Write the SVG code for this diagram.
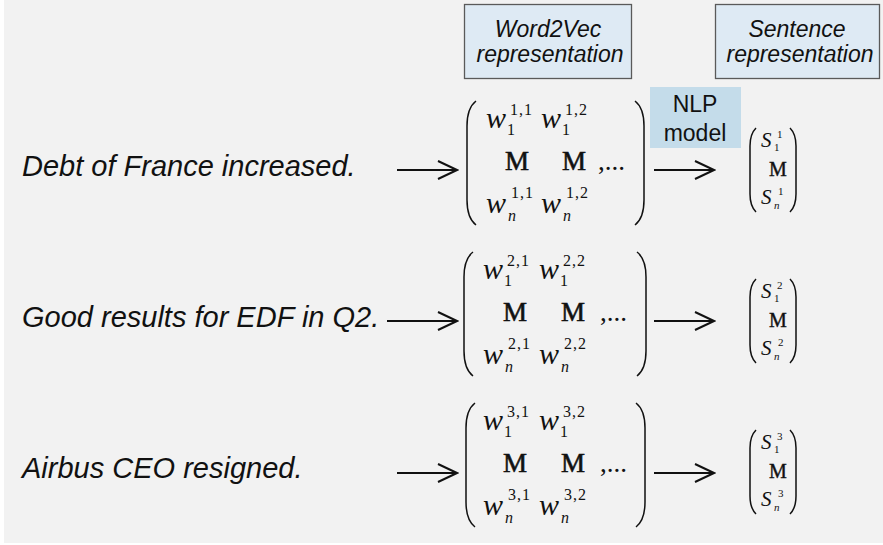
<svg xmlns="http://www.w3.org/2000/svg" width="883" height="545" viewBox="0 0 883 545">
  <style>
    .bg { fill: #f2f2f2; }
    .hdr { fill: #deeaf4; stroke: #5a5a5a; stroke-width: 1.3; }
    .nlp { fill: #c4dcea; }
    .sans { font-family: "Liberation Sans", Arial, sans-serif; fill: #111; }
    .it { font-style: italic; }
    .sent { font-size: 29px; }
    .hdrtxt { font-size: 23px; text-anchor: middle; }
    .serif { font-family: "Liberation Serif", "Times New Roman", serif; fill: #111; }
    .w { font-size: 30px; font-style: italic; }
    .idx { font-size: 16px; letter-spacing: 1px; }
    .mm { font-size: 27px; stroke: #111; stroke-width: 0.6; }
    .dots { font-size: 27px; }
    .s { font-size: 21px; font-style: italic; }
    .sidx { font-size: 11px; }
    .sdots { font-size: 20px; stroke: #111; stroke-width: 0.4; }
    .paren { fill: none; stroke: #111; stroke-width: 1.5; }
    .conn { stroke: #111; stroke-width: 2; fill: none; marker-end: url(#chev); }
  </style>
  <defs>
    <marker id="chev" viewBox="0 0 22 20" refX="20" refY="10" markerWidth="22" markerHeight="20" markerUnits="userSpaceOnUse" orient="auto">
      <path d="M1,1 L20,10 L1,19" fill="none" stroke="#111" stroke-width="2"/>
    </marker>
  </defs>

  <rect class="bg" x="4" y="0" width="879" height="543"/>

  <!-- column headers -->
  <g id="header-word2vec">
    <rect class="hdr" x="464.5" y="4.5" width="167" height="74"/>
    <text class="sans it hdrtxt" x="548" y="37">Word2Vec</text>
    <text class="sans it hdrtxt" x="550" y="62">representation</text>
  </g>
  <g id="header-sentence">
    <rect class="hdr" x="715.5" y="4.5" width="164" height="74"/>
    <text class="sans it hdrtxt" x="797" y="37">Sentence</text>
    <text class="sans it hdrtxt" x="800" y="62">representation</text>
  </g>

  <!-- input sentences -->
  <g id="sentence-1"><text class="sans it sent" x="22" y="176">Debt of France increased.</text></g>
  <g id="sentence-2"><text class="sans it sent" x="22" y="327">Good results for EDF in Q2.</text></g>
  <g id="sentence-3"><text class="sans it sent" x="22" y="478">Airbus CEO resigned.</text></g>

  <!-- word-vector matrices -->
  <g id="matrix-1">
    <path class="paren" d="M476,101 Q467,108 467,126 L467,200 Q467,218 476,225"/>
    <path class="paren" d="M635,101 Q644,108 644,126 L644,200 Q644,218 635,225"/>
    <text class="serif w" x="486" y="128">w</text>
    <text class="serif idx" x="507" y="135">1</text>
    <text class="serif idx" x="510" y="115">1,1</text>
    <text class="serif w" x="541" y="128">w</text>
    <text class="serif idx" x="562" y="135">1</text>
    <text class="serif idx" x="565" y="115">1,2</text>
    <text class="serif mm" x="505" y="170">M</text>
    <text class="serif mm" x="562" y="170">M</text>
    <text class="serif dots" x="598" y="170">,...</text>
    <text class="serif w" x="486" y="213">w</text>
    <text class="serif idx" x="508" y="221" font-style="italic">n</text>
    <text class="serif idx" x="511" y="198">1,1</text>
    <text class="serif w" x="541" y="213">w</text>
    <text class="serif idx" x="563" y="221" font-style="italic">n</text>
    <text class="serif idx" x="566" y="198">1,2</text>
  </g>
  <g id="matrix-2" transform="translate(0,151)">
    <path class="paren" d="M473,101 Q464,108 464,126 L464,200 Q464,218 473,225"/>
    <path class="paren" d="M637,101 Q646,108 646,126 L646,200 Q646,218 637,225"/>
    <text class="serif w" x="483" y="128">w</text>
    <text class="serif idx" x="504" y="135">1</text>
    <text class="serif idx" x="507" y="115">2,1</text>
    <text class="serif w" x="539" y="128">w</text>
    <text class="serif idx" x="560" y="135">1</text>
    <text class="serif idx" x="563" y="115">2,2</text>
    <text class="serif mm" x="503" y="170">M</text>
    <text class="serif mm" x="561" y="170">M</text>
    <text class="serif dots" x="600" y="170">,...</text>
    <text class="serif w" x="483" y="213">w</text>
    <text class="serif idx" x="505" y="221" font-style="italic">n</text>
    <text class="serif idx" x="508" y="198">2,1</text>
    <text class="serif w" x="539" y="213">w</text>
    <text class="serif idx" x="561" y="221" font-style="italic">n</text>
    <text class="serif idx" x="564" y="198">2,2</text>
  </g>
  <g id="matrix-3" transform="translate(0,302)">
    <path class="paren" d="M475,101 Q466,108 466,126 L466,200 Q466,218 475,225"/>
    <path class="paren" d="M636,101 Q645,108 645,126 L645,200 Q645,218 636,225"/>
    <text class="serif w" x="483" y="128">w</text>
    <text class="serif idx" x="504" y="135">1</text>
    <text class="serif idx" x="507" y="115">3,1</text>
    <text class="serif w" x="539" y="128">w</text>
    <text class="serif idx" x="560" y="135">1</text>
    <text class="serif idx" x="563" y="115">3,2</text>
    <text class="serif mm" x="503" y="170">M</text>
    <text class="serif mm" x="561" y="170">M</text>
    <text class="serif dots" x="600" y="170">,...</text>
    <text class="serif w" x="483" y="213">w</text>
    <text class="serif idx" x="505" y="221" font-style="italic">n</text>
    <text class="serif idx" x="508" y="198">3,1</text>
    <text class="serif w" x="539" y="213">w</text>
    <text class="serif idx" x="561" y="221" font-style="italic">n</text>
    <text class="serif idx" x="564" y="198">3,2</text>
  </g>

  <!-- model label -->
  <g id="nlp-model">
    <rect class="nlp" x="650" y="87" width="91" height="61"/>
    <text class="sans hdrtxt" x="695" y="112">NLP</text>
    <text class="sans hdrtxt" x="695" y="141">model</text>
  </g>

  <!-- sentence vectors -->
  <g id="vector-1">
    <path class="paren" d="M756,128 Q750,134 750,146 L750,194 Q750,206 756,212"/>
    <path class="paren" d="M790,128 Q796,134 796,146 L796,194 Q796,206 790,212"/>
    <text class="serif s" x="761" y="147">S</text>
    <text class="serif sidx" x="774" y="151">1</text>
    <text class="serif sidx" x="777" y="138">1</text>
    <text class="serif sdots" x="769" y="176">M</text>
    <text class="serif s" x="761" y="204">S</text>
    <text class="serif sidx" x="774" y="209" font-style="italic">n</text>
    <text class="serif sidx" x="778" y="195">1</text>
  </g>
  <g id="vector-2" transform="translate(0,151)">
    <path class="paren" d="M756,128 Q750,134 750,146 L750,194 Q750,206 756,212"/>
    <path class="paren" d="M790,128 Q796,134 796,146 L796,194 Q796,206 790,212"/>
    <text class="serif s" x="761" y="147">S</text>
    <text class="serif sidx" x="774" y="151">1</text>
    <text class="serif sidx" x="777" y="138">2</text>
    <text class="serif sdots" x="769" y="176">M</text>
    <text class="serif s" x="761" y="204">S</text>
    <text class="serif sidx" x="774" y="209" font-style="italic">n</text>
    <text class="serif sidx" x="778" y="195">2</text>
  </g>
  <g id="vector-3" transform="translate(0,302)">
    <path class="paren" d="M756,128 Q750,134 750,146 L750,194 Q750,206 756,212"/>
    <path class="paren" d="M790,128 Q796,134 796,146 L796,194 Q796,206 790,212"/>
    <text class="serif s" x="761" y="147">S</text>
    <text class="serif sidx" x="774" y="151">1</text>
    <text class="serif sidx" x="777" y="138">3</text>
    <text class="serif sdots" x="769" y="176">M</text>
    <text class="serif s" x="761" y="204">S</text>
    <text class="serif sidx" x="774" y="209" font-style="italic">n</text>
    <text class="serif sidx" x="778" y="195">3</text>
  </g>

  <!-- connectors -->
  <g id="connectors">
    <line class="conn" x1="397" y1="170" x2="457" y2="170"/>
    <line class="conn" x1="387" y1="321" x2="457" y2="321"/>
    <line class="conn" x1="397" y1="473" x2="457" y2="473"/>
    <line class="conn" x1="654" y1="170" x2="714" y2="170"/>
    <line class="conn" x1="654" y1="321" x2="714" y2="321"/>
    <line class="conn" x1="654" y1="473" x2="714" y2="473"/>
  </g>
</svg>
